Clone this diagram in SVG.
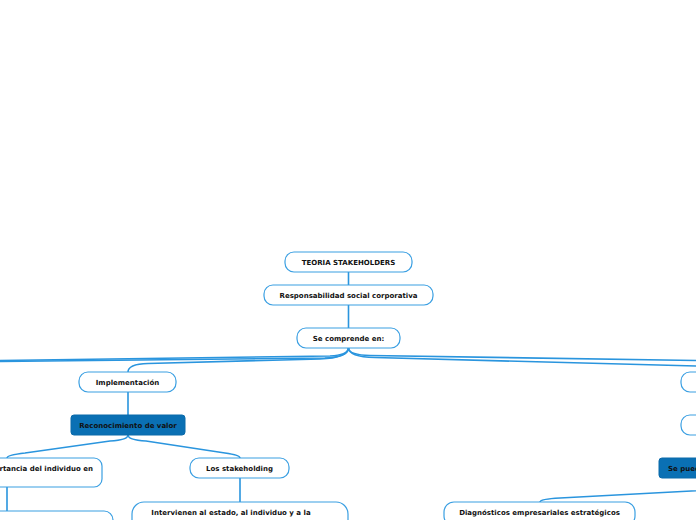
<svg xmlns="http://www.w3.org/2000/svg" width="696" height="520" viewBox="0 0 696 520">
<style>
.n{fill:#fff;stroke:#3a9fe2;stroke-width:1.2}
.f{fill:#0a70b4;stroke:#0a6aaa;stroke-width:1}
.t{font-family:"DejaVu Sans",Verdana,sans-serif;font-size:7px;font-weight:bold;fill:#111;text-anchor:middle}
.c{fill:none;stroke:#2a95de;stroke-width:1.6}
</style>
<rect width="696" height="520" fill="#fff"/>
<g id="connectors">
<path class="c" d="M348.5 272V285M348.5 305V328M128 392V415M7 487V511M240 478V502"/>
<path class="c" d="M348.5 348 Q348 355 330 356 L0 360.5 L-200 362"/>
<path class="c" d="M348.5 348 Q348 357 325 358 L0 361.5 L-400 364"/>
<path class="c" d="M348.5 348 Q348 358 320 359 L148 363.5 Q128 364 128 372"/>
<path class="c" d="M348.5 348 Q349 355 370 355.5 L696 360.5 L900 362"/>
<path class="c" d="M348.5 348 Q349 357 375 357.5 L696 366 Q720 367 720 372"/>
<path class="c" d="M128 435 Q128 440 110 441 L25 453 Q7 455 7 458"/>
<path class="c" d="M128 435 Q128 440 146 441 L225 453 Q240 455 240 458"/>
<path class="c" d="M760 478 Q760 488 740 488.5 L560 498 Q540 499 540 502"/>
</g>
<g id="n1"><rect class="n" x="285" y="252" width="127" height="20" rx="9"/><text class="t" x="348.5" y="265">TEORIA STAKEHOLDERS</text></g>
<g id="n2"><rect class="n" x="264" y="285" width="169" height="20" rx="9"/><text class="t" x="348.5" y="298">Responsabilidad social corporativa</text></g>
<g id="n3"><rect class="n" x="297" y="328" width="103" height="20" rx="9"/><text class="t" x="348.5" y="341">Se comprende en:</text></g>
<g id="n4"><rect class="n" x="79" y="372" width="97" height="20" rx="9"/><text class="t" x="127.5" y="385">Implementación</text></g>
<g id="n5"><rect class="f" x="71" y="415" width="114" height="20" rx="3"/><text class="t" x="128" y="428">Reconocimiento de valor</text></g>
<g id="n6"><rect class="n" x="-100" y="458" width="202" height="29" rx="8"/><text class="t" x="93" y="471" style="text-anchor:end">Importancia del individuo en</text></g>
<g id="n7"><rect class="n" x="190" y="458" width="99" height="20" rx="9"/><text class="t" x="239.5" y="471">Los stakeholding</text></g>
<g id="n8"><rect class="n" x="-100" y="511" width="213" height="30" rx="9"/></g>
<g id="n9"><rect class="n" x="132" y="502" width="216" height="40" rx="12"/><text class="t" x="231" y="515">Intervienen al estado, al individuo y a la</text></g>
<g id="n10"><rect class="n" x="681" y="372" width="100" height="20" rx="9"/></g>
<g id="n11"><rect class="n" x="681" y="415" width="100" height="20" rx="9"/></g>
<g id="n12"><rect class="f" x="659" y="458" width="110" height="20" rx="3"/><text class="t" x="668" y="471" style="text-anchor:start">Se pueden</text></g>
<g id="n13"><rect class="n" x="444" y="502" width="191" height="24" rx="10"/><text class="t" x="539.5" y="515">Diagnósticos empresariales estratégicos</text></g>
</svg>
